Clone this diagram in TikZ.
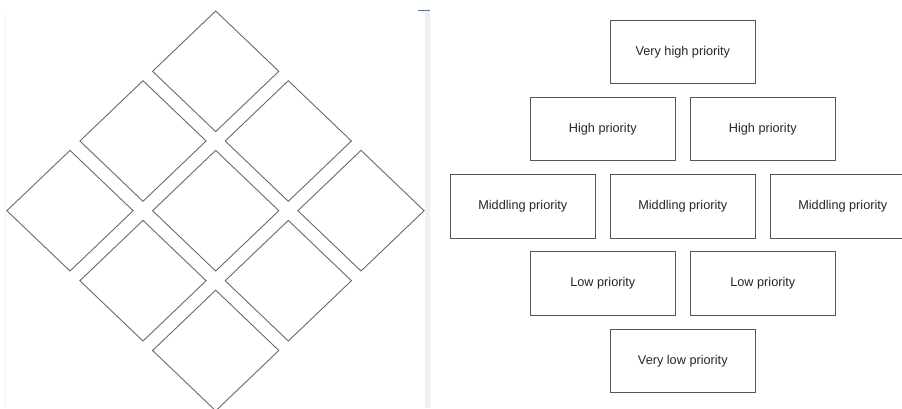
\documentclass[tikz,border=0pt]{standalone}
\usepackage{fontspec}
\setmainfont{Liberation Sans}
\usetikzlibrary{shapes.geometric}

\definecolor{edgegrey}{HTML}{555555}
\definecolor{tilegrey}{HTML}{6A6A6A}
\definecolor{stripgrey}{HTML}{F0F0F0}
\definecolor{markblue}{HTML}{4A78C8}

\tikzset{
  tile/.style={diamond, draw=tilegrey, line width=0.9pt, inner sep=0pt,
    shape aspect=1.046, minimum width=126.6, minimum height=121},
  prio/.style={rectangle, draw=edgegrey, line width=1pt, inner sep=0pt,
    minimum width=145, minimum height=63.5, text=black!85,
    font=\fontsize{12.7}{15}\selectfont}
}

\begin{document}
\begin{tikzpicture}[x=1pt, y=-1pt]

  % Page frame
  \useasboundingbox (0,0) rectangle (902,408);
  \clip (0,0) rectangle (902,408);
  \fill[white] (0,0) rectangle (902,408);

  % Strip between the two halves
  \fill[stripgrey] (425,11) rectangle (430,408);
  \draw[markblue, line width=1pt] (418,10.5) -- (430,10.5);
  \draw[stripgrey!70, line width=0.6pt] (5,11) -- (5,408);

  % Diamond of tiles
  \node[tile] (T1) at (215.7,71.3) {};
  \node[tile] (T2) at (143,141) {};
  \node[tile] (T3) at (288.3,141) {};
  \node[tile] (T4) at (70,210.7) {};
  \node[tile] (T5) at (215.7,210.7) {};
  \node[tile] (T6) at (361,210.7) {};
  \node[tile] (T7) at (143,280.7) {};
  \node[tile] (T8) at (288.3,280.7) {};
  \node[tile] (T9) at (215.7,350.5) {};

  % Priority boxes
  \node[prio] (VH) at (682.8,51.8) {Very high priority};
  \node[prio] (H1) at (602.8,129.2) {High priority};
  \node[prio] (H2) at (762.8,129.2) {High priority};
  \node[prio] (M1) at (522.8,206.4) {Middling priority};
  \node[prio] (M2) at (682.8,206.4) {Middling priority};
  \node[prio] (M3) at (842.8,206.4) {Middling priority};
  \node[prio] (L1) at (602.8,283.5) {Low priority};
  \node[prio] (L2) at (762.8,283.5) {Low priority};
  \node[prio] (VL) at (682.8,360.8) {Very low priority};

\end{tikzpicture}
\end{document}
